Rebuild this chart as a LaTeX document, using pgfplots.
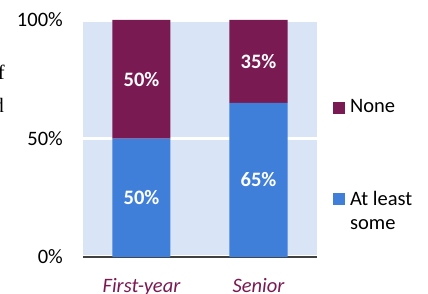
\documentclass[border=0pt]{standalone}
\usepackage{pgfplots}
\pgfplotsset{compat=1.18}
\usepackage{fontspec}
\setmainfont{Carlito}
\newfontfamily\seriffont{Liberation Serif}
\definecolor{maroon}{HTML}{7A1A52}
\definecolor{cblue}{HTML}{3F7FDA}
\definecolor{bgblue}{HTML}{D9E5F7}
\definecolor{axisgray}{HTML}{404040}
\begin{document}%
\fontsize{20.5bp}{24bp}\selectfont%
\begin{tikzpicture}
\useasboundingbox (-83bp,-37bp) rectangle (345bp,257bp);
\node[anchor=base east, font=\seriffont, inner sep=0pt] at (-78bp,177bp) {f};
\node[anchor=base east, font=\seriffont, inner sep=0pt] at (-79bp,144bp) {d};
\begin{axis}[
  scale only axis, width=234bp, height=237bp,
  ybar stacked, bar width=58bp,
  xmin=-0.5, xmax=1.5, ymin=0, ymax=100,
  xtick={0,1}, xticklabels={First-year,Senior},
  ytick={0,50,100}, yticklabels={0\%,50\%,100\%},
  major tick length=0pt,
  axis x line=bottom, axis y line=left,
  x axis line style={-, draw=axisgray, line width=1.5bp},
  y axis line style={draw=none},
  axis background/.style={fill=bgblue},
  ymajorgrids, grid style={white, line width=3.5bp},
  xticklabel style={text=maroon, font=\itshape, anchor=north, inner sep=0pt, yshift=-21bp},
  yticklabel style={anchor=east, inner sep=0pt, xshift=-20bp},
  legend style={draw=none, fill=none, at={(rel axis cs:1.068,0.664)}, anchor=north west,
    row sep=73bp, column sep=5bp, inner sep=0pt, nodes={inner sep=0pt}},
  legend cell align=left,
  reverse legend,
  legend image code/.code={\fill[#1] (0bp,-6bp) rectangle (12bp,6bp);},
  /pgf/number format/assume math mode=true,
  nodes near coords={\pgfmathprintnumber{\pgfplotspointmeta}\%},
  every node near coord/.append style={anchor=center, text=white, font=\bfseries},
]
\addplot[fill=cblue, draw=none] table[x=x, y=v, meta=v] {
x v
0 50
1 65
};
\addlegendentry{\begin{tabular}[t]{@{}l@{}}At least\\some\end{tabular}}
\addplot[fill=maroon, draw=none] table[x=x, y=v, meta=v] {
x v
0 50
1 35
};
\addlegendentry{None}
\end{axis}
\end{tikzpicture}
\end{document}
